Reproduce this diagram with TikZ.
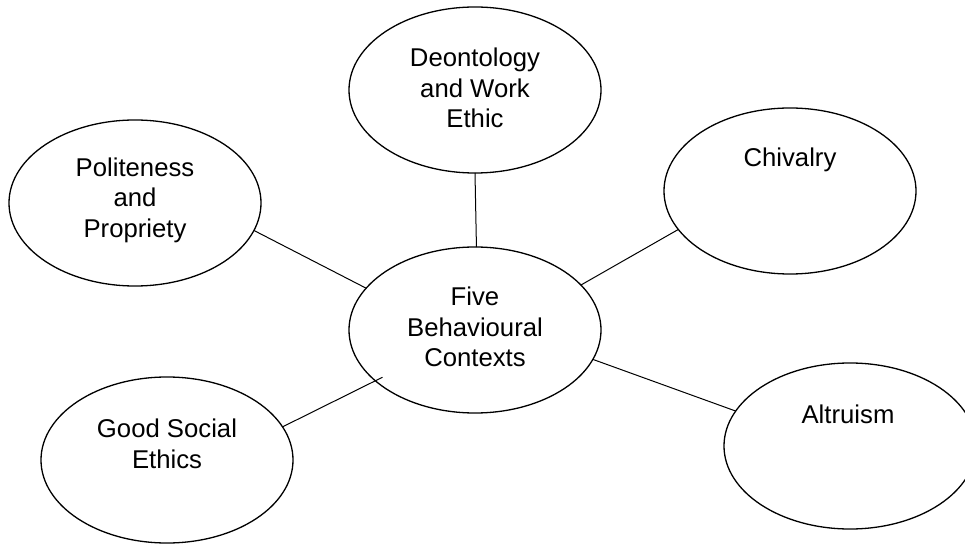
\documentclass[tikz,border=0pt]{standalone}
\usepackage{fontspec}
\setmainfont{Liberation Sans}
\usetikzlibrary{shapes.geometric}
\tikzset{
  bubble/.style={ellipse, draw=black, line width=1.3bp, minimum width=252bp, minimum height=166bp, inner sep=0pt, outer sep=0pt},
  label text/.style={align=center, inner sep=0pt, font=\fontsize{25.8}{30.5}\selectfont},
  link/.style={draw=black, line width=1bp}
}
\begin{document}
\begin{tikzpicture}[x=1bp,y=-1bp]
\useasboundingbox (0,0) rectangle (965,545);
\clip (0,0) rectangle (965,545);
\fill[white] (0,0) rectangle (965,545);
% ellipses
\node[bubble] (top) at (475,90) {};
\node[bubble] (pol) at (135,203) {};
\node[bubble] (chiv) at (790,191) {};
\node[bubble] (ctr) at (475,330) {};
\node[bubble] (good) at (167,460) {};
\node[bubble] (alt) at (850,446) {};
% texts
\node[label text] (ttop) at (475,88) {Deontology\\and Work\\Ethic};
\node[label text] (tpol) at (135,200) {Politeness\\and\\Propriety};
\node[label text] (tchiv) at (790,160) {Chivalry};
\node[label text] (tctr) at (475,327) {Five\\Behavioural\\Contexts};
\node[label text] (tgood) at (167,444) {Good Social\\Ethics};
\node[label text] (talt) at (848,414) {Altruism};
% connectors
\draw[link] (top.south) -- (ctr.89);
\draw[link] (pol.-13.5) -- (ctr.159);
\draw[link] (chiv.199.5) -- (ctr.23.5);
\draw[link, shorten >=-8bp] (good.16.3) -- (ctr.207.6);
\draw[link] (ctr.-14.8) -- (alt.163.5);
\end{tikzpicture}
\end{document}
